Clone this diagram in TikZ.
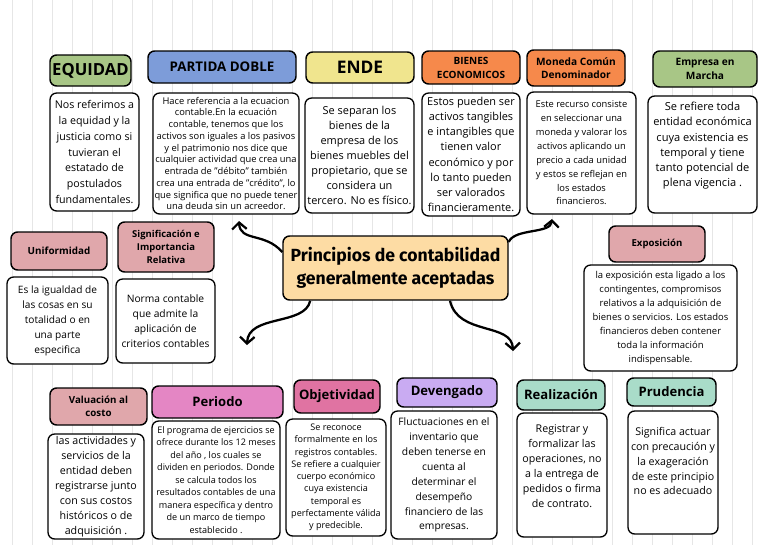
\documentclass[tikz,border=0pt]{standalone}
\usepackage{fontspec}
\setmainfont{Open Sans}
\newfontfamily\pcgafont{Fira Sans}
\usetikzlibrary{positioning,arrows.meta}
\definecolor{Grid}{HTML}{E6E6E6}
\definecolor{Verde}{HTML}{A8C686}
\definecolor{Azul}{HTML}{7D9CD9}
\definecolor{Amarillo}{HTML}{F0E58E}
\definecolor{Naranja}{HTML}{F6894B}
\definecolor{Rosa}{HTML}{E0A7AB}
\definecolor{Magenta}{HTML}{E486C4}
\definecolor{Fucsia}{HTML}{E073A2}
\definecolor{Lila}{HTML}{C9ABF2}
\definecolor{Menta}{HTML}{A9DCC9}
\definecolor{Central}{HTML}{FDDCA4}
\newcommand{\fsz}[2]{\fontsize{#1}{#2}\selectfont}

\begin{document}
\begin{tikzpicture}[x=0.75pt,y=-0.75pt,
  boxsize/.style 2 args={minimum width=#1*0.75pt,minimum height=#2*0.75pt},
  hf/.style 2 args={font=\bfseries\fsz{#1}{#2}},
  tf/.style 2 args={font=\fsz{#1}{#2}}]
\tikzstyle{head}=[draw=black,line width=1.1pt,rounded corners=5pt,align=center,inner sep=1pt]
\tikzstyle{desc}=[draw=black,line width=1pt,fill=white,rounded corners=5pt,align=center,inner sep=0pt]
\tikzstyle{flecha}=[line width=1.7pt,-{Straight Barb[length=5pt,width=11pt]}]
\useasboundingbox (0,0) rectangle (768,544);
\fill[white] (0,0) rectangle (768,544);
\begin{scope}
\clip (0,0) rectangle (768,544);
\draw[Grid,line width=0.6pt,shift={(12,12)},step=20] (-20,-20) grid (764,540);
\end{scope}

\node[head,fill=Verde,boxsize={81}{31},hf={12.5}{14}] (eqT) at (90.5,70.5) {EQUIDAD};
\node[desc,boxsize={89}{118},tf={8}{11.8}] (eqD) at (94.5,152) {Nos referimos a\\la equidad y la\\justicia como si\\tuvieran el\\estatado de\\postulados\\fundamentales.};
\node[head,fill=Azul,boxsize={148}{32},hf={10}{12}] (pdT) at (222,67) {PARTIDA DOBLE};
\node[desc,boxsize={146}{121},tf={7}{8.8}] (pdD) at (226,153.5) {Hace referencia a la ecuacion\\contable.En la ecuación\\contable, tenemos que los\\activos son iguales a los pasivos\\y el patrimonio nos dice que\\cualquier actividad que crea una\\entrada de "débito" también\\crea una entrada de "crédito", lo\\que significa que no puede tener\\una deuda sin un acreedor.};
\node[head,fill=Amarillo,boxsize={108}{31},hf={13}{15}] (enT) at (360,67.5) {ENDE};
\node[desc,boxsize={109}{115},tf={8.2}{11.2}] (enD) at (359.5,155.5) {Se separan los\\bienes de la\\empresa de los\\bienes muebles del\\propietario, que se\\considera un\\tercero. No es físico.};
\node[head,fill=Naranja,boxsize={98}{33},hf={7.5}{10.5}] (biT) at (471,67.5) {BIENES\\ECONOMICOS};
\node[desc,boxsize={98}{123},tf={8.2}{11.4}] (biD) at (471,154.5) {Estos pueden ser\\activos tangibles\\e intangibles que\\tienen valor\\económico y por\\lo tanto pueden\\ser valorados\\financieramente.};
\node[head,fill=Naranja,boxsize={98}{36},hf={7.6}{10}] (moT) at (576,68) {Moneda Común\\Denominador};
\node[desc,boxsize={109}{122},tf={7}{10.4}] (moD) at (581.5,153) {Este recurso consiste\\en seleccionar una\\moneda y valorar los\\activos aplicando un\\precio a cada unidad\\y estos se reflejan en\\los estados\\financieros.};
\node[head,fill=Verde,boxsize={104}{36},hf={7.6}{10}] (emT) at (705,69) {Empresa en\\Marcha};
\node[desc,boxsize={109}{117},tf={8.3}{11.3}] (emD) at (702.5,154.5) {Se refiere toda\\entidad económica\\cuya existencia es\\temporal y tiene\\tanto potencial de\\plena vigencia .\\[4pt]\mbox{}};

\node[head,fill=Rosa,boxsize={96}{38},hf={7.4}{10}] (unT) at (59,251) {Uniformidad};
\node[desc,boxsize={101}{87},tf={7.6}{11.2}] (unD) at (57.5,320.5) {Es la igualdad de\\las cosas en su\\totalidad o en\\una parte\\especifica};
\node[head,fill=Rosa,boxsize={96}{50},hf={7.1}{10}] (siT) at (166,247) {Significación e\\Importancia\\Relativa};
\node[desc,boxsize={99}{84},tf={7.7}{11.2}] (siD) at (165.5,321) {Norma contable\\que admite la\\aplicación de\\criterios contables};
\node[head,fill=Central,boxsize={225}{64},font=\pcgafont\bfseries\fsz{13.2}{17.5}] (pcga) at (395.5,268) {Principios de contabilidad\\generalmente aceptadas};
\node[head,fill=Rosa,boxsize={96}{36},hf={7.2}{10}] (exT) at (657,244) {Exposición};
\node[desc,boxsize={153}{106},tf={7.1}{10.5}] (exD) at (660.5,318) {la exposición esta ligado a los\\contingentes, compromisos\\relativos a la adquisición de\\bienes o servicios. Los estados\\financieros deben contener\\toda la información\\indispensable.};

\node[head,fill=Rosa,boxsize={97}{37},hf={7.3}{10}] (vaT) at (98.5,406.5) {Valuación al\\costo};
\node[desc,boxsize={96}{105},tf={8}{11.2}] (vaD) at (96,486.5) {las actividades y\\servicios de la\\entidad deben\\registrarse junto\\con sus costos\\históricos o de\\adquisición .};
\node[head,fill=Magenta,boxsize={131}{32},hf={9.8}{11}] (peT) at (217.5,402) {Periodo};
\node[desc,boxsize={128}{118},tf={6.8}{9.4}] (peD) at (216,480) {El programa de ejercicios se\\ofrece durante los 12 meses\\del año , los cuales se\\dividen en periodos. Donde\\se calcula todos los\\resultados contables de una\\manera específica y dentro\\de un marco de tiempo\\establecido .};
\node[head,fill=Fucsia,boxsize={86}{33},hf={9.8}{11}] (obT) at (337,396.5) {Objetividad};
\node[desc,boxsize={100}{117},tf={6.8}{9.2}] (obD) at (336,477.5) {Se reconoce\\formalmente en los\\registros contables.\\Se refiere a cualquier\\cuerpo económico\\cuya existencia\\temporal es\\perfectamente válida\\y predecible.};
\node[head,fill=Lila,boxsize={100}{29},hf={9.8}{11}] (deT) at (447,392.5) {Devengado};
\node[desc,boxsize={106}{128},tf={7.7}{11.2}] (deD) at (444,475) {Fluctuaciones en el\\inventario que\\deben tenerse en\\cuenta al\\determinar el\\desempeño\\financiero de las\\empresas.};
\node[head,fill=Menta,boxsize={88}{30},hf={9.8}{11}] (reT) at (561,395) {Realización};
\node[desc,boxsize={90}{124},tf={8}{11.2}] (reD) at (562,475) {Registrar y\\formalizar las\\operaciones, no\\a la entrega de\\pedidos o firma\\de contrato.\\[2pt]\mbox{}};
\node[head,fill=Menta,boxsize={89}{28},hf={9.8}{11}] (prT) at (671.5,392) {Prudencia};
\node[desc,boxsize={90}{123},tf={8}{11.2}] (prD) at (673,472.5) {Significa actuar\\con precaución y\\la exageración\\de este principio\\no es adecuado\\[6pt]\mbox{}};

\coordinate (fPD) at (239,221);
\coordinate (fMO) at (552,219);
\coordinate (fSI) at (247,345);
\coordinate (fDE) at (513,351);
\draw[flecha] (pcga.172) .. controls (265,232) and (240,242) .. (fPD);
\draw[flecha] (pcga.13) .. controls (515,228) and (551,234) .. (fMO);
\draw[flecha] (pcga.201) .. controls (305,326) and (248,314) .. (fSI);
\draw[flecha] (pcga.-31) .. controls (458,336) and (512,322) .. (fDE);
\end{tikzpicture}
\end{document}
